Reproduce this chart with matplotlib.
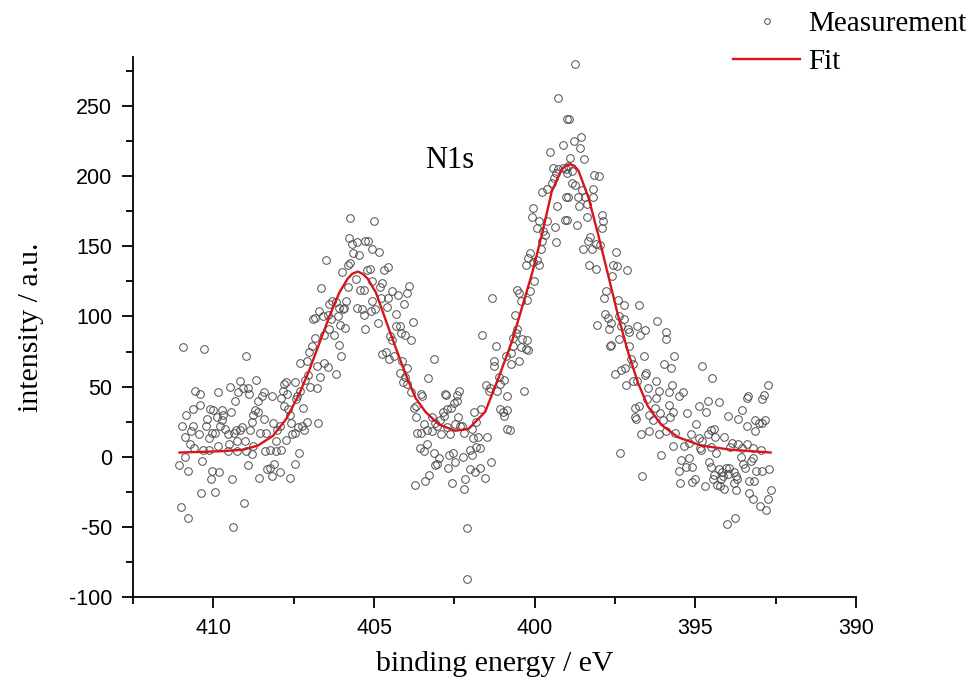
import matplotlib
matplotlib.use("Agg")
import matplotlib.pyplot as plt
from matplotlib.ticker import MultipleLocator

plt.rcParams["axes.unicode_minus"] = False

meas_411_408 = [
    (410.95, 78), (410.30, 77), (408.98, 72), (408.68, 55), (409.18, 54), (409.48, 50),
    (410.57, 47), (410.43, 45), (409.86, 46), (409.08, 49), (408.93, 49), (409.22, 46),
    (408.89, 45), (408.43, 46), (408.50, 43), (408.60, 40), (409.33, 40), (410.41, 37),
    (410.62, 34), (410.84, 30), (410.10, 34), (410.00, 33), (409.72, 33), (409.69, 30),
    (409.46, 32), (409.89, 28), (410.20, 27), (409.74, 26), (408.71, 33), (408.62, 32),
    (408.76, 30), (408.81, 25), (408.42, 27), (410.62, 22), (410.96, 22), (410.23, 22),
    (409.79, 22), (409.64, 20), (409.28, 19), (409.12, 21), (409.35, 17), (409.17, 19),
    (408.86, 19), (408.55, 17), (410.05, 17), (409.95, 17), (410.69, 18), (410.89, 14),
    (410.46, 16), (409.55, 16), (410.15, 13), (408.35, 17), (410.72, 9), (410.59, 6),
    (410.33, 5), (410.15, 5), (409.86, 8), (409.51, 9), (409.55, 4), (409.25, 11),
    (409.02, 11), (409.25, 4), (408.99, 4), (408.78, 8), (408.79, 2), (408.38, 4),
    (410.87, 0), (411.06, -6), (410.79, -10), (410.34, -3), (408.91, -6), (410.05, -10),
    (409.81, -11), (408.33, -9), (410.08, -16), (409.43, -16), (408.58, -15), (410.38, -26),
    (409.95, -25), (409.06, -33), (411.00, -36), (410.79, -44), (409.40, -50),
]
meas_408_405 = [
    (405.74, 170), (405.77, 156), (405.67, 152), (405.53, 153), (405.27, 154), (405.65, 145),
    (405.46, 144), (406.49, 140), (405.74, 138), (405.82, 137), (406.01, 132), (405.56, 127),
    (406.65, 120), (405.22, 133), (405.82, 121), (405.43, 119), (405.32, 119), (406.32, 111),
    (406.18, 110), (406.39, 109), (405.87, 111), (405.92, 106), (406.70, 104), (406.83, 99),
    (406.89, 98), (406.44, 101), (406.10, 106), (405.54, 106), (405.38, 105), (405.30, 101),
    (405.97, 105), (406.59, 100), (406.34, 98), (406.13, 100), (406.05, 94), (405.90, 92),
    (406.41, 91), (406.23, 87), (405.28, 91), (406.85, 85), (406.92, 79), (407.01, 75),
    (406.56, 87), (406.08, 80), (406.03, 72), (407.08, 68), (407.30, 67), (406.78, 65),
    (406.56, 67), (406.44, 64), (406.18, 59), (406.68, 57), (407.06, 58), (407.75, 53),
    (407.80, 52), (407.45, 53), (407.16, 55), (406.98, 50), (406.77, 49), (407.29, 47),
    (407.84, 47), (407.70, 45), (408.19, 43), (407.88, 42), (407.39, 43), (407.42, 41),
    (407.21, 35), (407.80, 36), (407.68, 34), (407.63, 30), (408.14, 24), (407.94, 22),
    (408.01, 19), (407.57, 24), (407.37, 21), (407.23, 22), (407.18, 19), (407.08, 25),
    (406.75, 24), (407.47, 17), (407.55, 16), (407.73, 12), (408.04, 11), (407.88, 5),
    (408.04, 4), (408.25, 5), (407.34, 3), (407.47, -5), (408.11, -5), (408.25, -8),
    (408.19, -14), (407.94, -11), (407.60, -15),
]
meas_405_402 = [
    (404.99, 168), (405.20, 154), (405.05, 148), (404.86, 146), (405.12, 134), (404.69, 133),
    (404.56, 135), (404.74, 124), (404.81, 121), (405.05, 125), (404.45, 118), (403.91, 122),
    (403.98, 117), (404.25, 115), (404.56, 113), (404.79, 113), (405.05, 111), (405.10, 104),
    (404.97, 105), (404.87, 95), (404.60, 107), (404.32, 102), (404.07, 109), (403.78, 96),
    (404.32, 93), (404.17, 88), (404.20, 93), (404.04, 87), (403.86, 83), (404.50, 86),
    (404.43, 83), (404.63, 75), (404.74, 73), (404.37, 72), (404.53, 70), (403.14, 70),
    (404.12, 68), (403.96, 63), (404.20, 60), (404.04, 57), (404.09, 53), (403.96, 52),
    (403.32, 56), (403.86, 46), (403.55, 45), (403.50, 43), (402.79, 45), (402.77, 44),
    (402.43, 44), (402.36, 47), (403.70, 36), (402.43, 40), (402.50, 38), (402.62, 35),
    (402.72, 34), (402.85, 32), (403.76, 35), (403.68, 28), (403.19, 28), (402.95, 26),
    (402.81, 29), (402.38, 28), (403.45, 23), (403.09, 24), (403.03, 22), (403.34, 19),
    (402.74, 21), (402.49, 23), (402.31, 22), (402.26, 22), (403.65, 17), (403.55, 17),
    (403.19, 18), (402.93, 16), (402.64, 16), (402.21, 17), (403.57, 6), (403.43, 4),
    (403.36, 9), (403.14, 3), (402.98, -1), (403.03, -5), (403.09, -6), (402.54, 3),
    (402.23, 0), (402.67, 1), (402.47, -4), (402.70, -8), (402.16, -16), (402.21, -23),
    (403.29, -13), (403.41, -17), (403.73, -20), (402.57, -19), (402.10, -51), (402.10, -87),
]
meas_402_399 = [
    (399.27, 256), (399.01, 241), (399.11, 222), (399.52, 217), (399.44, 206), (399.27, 205),
    (399.13, 206), (399.03, 205), (399.34, 202), (399.40, 199), (399.47, 195), (399.63, 191),
    (399.78, 189), (399.03, 185), (399.32, 179), (400.04, 177), (399.06, 169), (400.09, 171),
    (399.86, 168), (399.63, 168), (399.37, 164), (399.94, 163), (399.75, 161), (399.78, 154),
    (399.68, 158), (399.34, 153), (399.81, 148), (400.14, 145), (400.20, 142), (399.92, 140),
    (399.86, 137), (400.04, 139), (400.27, 137), (400.01, 125), (400.56, 119), (400.50, 117),
    (400.43, 111), (400.25, 112), (400.16, 118), (401.33, 113), (400.61, 101), (400.56, 91),
    (400.58, 88), (400.68, 85), (400.40, 84), (400.25, 83), (400.43, 78), (400.27, 77),
    (400.20, 76), (400.69, 79), (400.74, 74), (400.89, 72), (400.48, 68), (400.74, 66),
    (401.64, 87), (401.20, 79), (401.28, 68), (401.26, 65), (401.12, 57), (400.97, 55),
    (401.09, 52), (401.51, 51), (401.38, 49), (401.43, 47), (400.32, 47), (401.18, 47),
    (400.87, 43), (401.07, 34), (400.99, 32), (400.85, 33), (400.97, 29), (401.67, 34),
    (401.88, 32), (401.82, 25), (401.95, 20), (400.85, 20), (400.78, 19), (401.92, 13),
    (401.49, 14), (401.76, 14), (401.82, 7), (402.02, 5), (401.96, 1), (401.69, 6),
    (401.35, -4), (402.02, -9), (401.69, -8), (401.85, -11), (401.54, -15),
]
meas_399_396 = [
    (398.75, 280), (398.93, 241), (398.57, 228), (398.78, 225), (398.60, 220), (398.89, 213),
    (398.47, 212), (398.96, 207), (398.85, 204), (399.01, 202), (398.16, 201), (398.01, 200),
    (398.85, 195), (398.75, 194), (398.20, 191), (398.54, 190), (398.96, 185), (398.65, 185),
    (398.18, 185), (398.44, 185), (398.62, 179), (398.37, 180), (399.01, 169), (398.68, 165),
    (397.92, 172), (397.87, 168), (397.92, 163), (398.36, 171), (398.27, 157), (398.34, 154),
    (398.51, 148), (398.23, 148), (398.10, 152), (397.98, 151), (398.31, 137), (398.08, 134),
    (397.46, 146), (397.44, 136), (397.56, 137), (397.58, 129), (397.13, 133), (397.77, 118),
    (397.85, 113), (397.82, 102), (397.72, 99), (398.06, 94), (397.69, 91), (397.61, 95),
    (397.38, 100), (397.31, 93), (397.23, 98), (397.41, 112), (397.23, 108), (397.38, 84),
    (397.67, 79), (397.61, 80), (397.10, 91), (397.07, 89), (397.05, 79), (396.76, 108),
    (396.81, 93), (396.72, 87), (396.56, 90), (396.19, 97), (396.99, 70), (396.94, 66),
    (397.20, 63), (397.31, 62), (397.51, 59), (396.60, 72), (396.58, 58), (396.53, 60),
    (396.94, 54), (397.15, 51), (396.81, 54), (396.48, 49), (396.22, 54), (396.14, 47),
    (395.99, 66), (395.91, 89), (395.91, 84), (396.24, 42), (396.51, 41), (396.74, 36),
    (396.27, 35), (396.89, 35), (396.89, 28), (396.86, 27), (396.43, 30), (396.10, 31),
    (396.31, 26), (396.02, 26), (396.69, 16), (396.45, 18), (396.12, 16), (397.33, 3),
    (396.07, 1), (396.66, -14),
]
meas_396_392 = [
    (395.65, 72), (395.76, 63), (394.80, 65), (394.47, 56), (395.74, 51), (395.83, 46),
    (395.40, 46), (395.52, 43), (392.73, 51), (392.87, 44), (392.94, 41), (393.35, 43),
    (394.62, 40), (394.28, 39), (394.88, 36), (394.67, 32), (393.54, 33), (395.81, 37),
    (395.69, 32), (395.27, 31), (395.79, 28), (394.00, 29), (393.66, 27), (393.38, 22),
    (393.15, 18), (393.13, 26), (393.02, 24), (392.92, 24), (392.82, 26), (394.98, 23),
    (394.42, 20), (394.52, 19), (394.62, 16), (394.39, 14), (394.11, 14), (395.62, 17),
    (395.14, 16), (394.90, 13), (394.80, 11), (395.91, 18), (395.71, 8), (395.35, 8),
    (395.19, 10), (394.85, 6), (394.52, 7), (394.37, 3), (393.93, 7), (393.87, 10),
    (393.66, 9), (393.40, 9), (393.56, 6), (393.21, 6), (392.97, 5), (395.45, -2),
    (395.19, -1), (394.83, 5), (394.57, -4), (394.52, -7), (394.26, -9), (394.06, -8),
    (394.16, -11), (394.00, -12), (393.95, -8), (393.80, -11), (393.59, 0), (393.52, -5),
    (393.47, -8), (393.21, -1), (393.28, -3), (393.10, -10), (392.92, -10), (392.71, -9),
    (395.52, -10), (395.29, -7), (395.09, -7), (394.42, -13), (394.14, -14), (394.21, -16),
    (393.75, -14), (393.69, -16), (393.33, -17), (393.18, -17), (395.48, -19), (395.09, -18),
    (395.00, -16), (394.69, -21), (394.33, -20), (394.24, -21), (393.80, -19), (393.75, -24),
    (394.11, -23), (393.33, -26), (393.21, -30), (392.99, -35), (392.79, -38), (392.73, -30),
    (392.66, -24), (394.03, -48), (393.77, -44), (394.44, -16), (393.40, 42),
]

# fitted envelope
fit_curve = [
    (411.05, 3), (410.30, 3.5), (409.70, 4), (409.07, 5), (408.61, 8), (408.14, 15),
    (407.73, 27), (407.32, 45), (407.01, 62), (406.70, 81), (406.39, 100), (406.08, 117),
    (405.82, 127), (405.67, 130.5), (405.51, 132), (405.36, 130.5), (405.20, 127),
    (404.94, 117), (404.63, 97), (404.33, 78), (404.02, 59), (403.71, 42), (403.40, 32),
    (402.98, 23), (402.47, 18.5), (402.05, 20), (401.54, 32), (401.13, 56), (400.71, 82),
    (400.40, 106), (400.09, 130), (399.78, 158), (399.47, 189), (399.16, 205),
    (399.03, 207.5), (398.90, 208.5), (398.77, 207.5), (398.64, 204), (398.33, 185),
    (398.02, 158), (397.72, 130), (397.41, 101), (397.10, 75), (396.79, 53), (396.48, 36),
    (396.07, 23), (395.55, 14), (394.83, 8), (393.90, 5), (392.66, 3),
]

strips = [meas_411_408, meas_408_405, meas_405_402, meas_402_399, meas_399_396, meas_396_392]
meas_e = [p[0] for s in strips for p in s]
meas_i = [p[1] for s in strips for p in s]
fit_e = [p[0] for p in fit_curve]
fit_i = [p[1] for p in fit_curve]

SERIF = "Liberation Serif"
SANS = "Liberation Sans"

fig = plt.figure(figsize=(9.73, 6.84), dpi=100)
ax = fig.add_axes([0.1367, 0.1272, 0.7431, 0.7895])

ax.plot(meas_e, meas_i, "o", mfc="none", mec="#4d4d4d", ms=5.5, mew=0.7,
        label="Measurement")
ax.plot(fit_e, fit_i, "-", color="#d8141b", lw=1.7, label="Fit")

ax.set_xlim(412.5, 390)
ax.set_ylim(-100, 285)
ax.xaxis.set_major_locator(MultipleLocator(5))
ax.xaxis.set_minor_locator(MultipleLocator(2.5))
ax.yaxis.set_major_locator(MultipleLocator(50))
ax.yaxis.set_minor_locator(MultipleLocator(25))

for side in ("top", "right"):
    ax.spines[side].set_visible(False)
for side in ("left", "bottom"):
    ax.spines[side].set_linewidth(1.3)

ax.tick_params(which="major", direction="out", length=8, width=1.3, labelsize=15.5, pad=7)
ax.tick_params(which="minor", direction="out", length=5, width=1.3)
for lab in ax.get_xticklabels() + ax.get_yticklabels():
    lab.set_fontfamily(SANS)

ax.set_xlabel("binding energy / eV", fontfamily=SERIF, fontsize=21.5, labelpad=9)
ax.set_ylabel("intensity / a.u.", fontfamily=SERIF, fontsize=21.5, labelpad=18)
ax.text(402.66, 211, "N1s", ha="center", va="center", fontfamily=SERIF, fontsize=22)

fig.legend(loc="upper left", bbox_to_anchor=(0.7533, 0.984), frameon=False,
           prop={"family": SERIF, "size": 21}, handlelength=2.3, handletextpad=0.27,
           borderpad=0, borderaxespad=0, labelspacing=0.4, markerscale=0.75)

fig.savefig("out.png", dpi=100)
